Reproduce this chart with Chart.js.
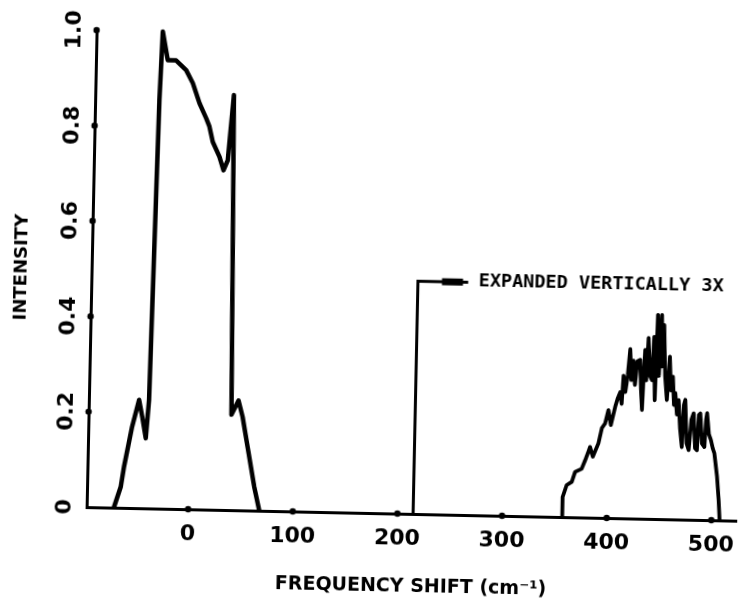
<!DOCTYPE html>
<html>
<head>
<meta charset="utf-8">
<script src="https://cdn.jsdelivr.net/npm/chart.js@4.4.1/dist/chart.umd.min.js"></script>
<style>
  html, body { margin: 0; padding: 0; background: #fff; overflow: hidden; }
  #wrap { width: 742px; height: 602px; }
  /* the scanned figure sits a little skewed on the page */
  #spectrum { transform: rotate(1.2deg); transform-origin: 50% 50%; }
</style>
</head>
<body>
<div id="wrap"><canvas id="spectrum" width="742" height="602"></canvas></div>
<script>
// main spectrum (cm-1, intensity)
const mainShift = [-71, -64.8, -62.1, -55.2, -49, -45.5, -41.9, -39.5, -38.2, -36.9, -35.6, -33.7,
    -28.4, -20.4, -10.6, -4, 2.8, 9.5, 12.7, 16.2, 22.9, 27, 30.9, 35.5, 39.5, 46, 50.2, 55.6, 62.7, 68];
const mainIntensity = [0, 0.044, 0.086, 0.17, 0.227, 0.19, 0.147, 0.227, 0.437, 0.646, 0.857, 1.0,
    0.94, 0.94, 0.92, 0.893, 0.851, 0.82, 0.803, 0.771, 0.74, 0.712, 0.733, 0.87, 0.2, 0.23, 0.196, 0.133, 0.05, 0];

// part expanded vertically 3x (noisy trace)
const expandedShift = [357, 357.5, 361.1, 365.9, 368.9, 375.1, 378.3, 381.2, 382.7, 385.5, 390.6, 393.6,
    396.6, 399.5, 402.1, 405.9, 408, 410.4, 412, 413.3, 415.3, 417.3, 419.2, 420.8, 422.5, 424.3, 426.3,
    428.9, 430.2, 431.5, 432.5, 433.5, 435, 436.5, 438.5, 440.5, 441.9, 443.5, 445, 447, 448.9, 450,
    451.2, 453, 455.1, 457.2, 458.8, 460.5, 462, 463.1, 465, 466.4, 468.3, 470.3, 471.5, 472.8, 474.8,
    476.9, 479, 481, 483, 484.8, 486, 487.4, 489.5, 491.9, 493, 493.9, 496, 498, 500, 501.6, 504.6,
    506.6, 507.9];
const expandedIntensity = [0, 0.042, 0.067, 0.074, 0.095, 0.102, 0.12, 0.138, 0.148, 0.128, 0.156, 0.188,
    0.198, 0.226, 0.195, 0.233, 0.25, 0.264, 0.24, 0.299, 0.265, 0.3, 0.355, 0.29, 0.331, 0.28, 0.33,
    0.333, 0.27, 0.228, 0.3, 0.354, 0.29, 0.379, 0.3, 0.291, 0.382, 0.249, 0.428, 0.3, 0.428, 0.32,
    0.407, 0.3, 0.25, 0.341, 0.27, 0.299, 0.24, 0.265, 0.22, 0.25, 0.19, 0.152, 0.24, 0.251, 0.16,
    0.146, 0.21, 0.223, 0.15, 0.146, 0.22, 0.223, 0.16, 0.153, 0.21, 0.224, 0.18, 0.168, 0.15, 0.14, 0.091,
    0.042, 0];

// bracket pointing to the note
const markerShift = [215, 215, 263];
const markerIntensity = [0, 0.488, 0.488];
const arrowShift = [248];
const arrowIntensity = [0.488];

const xTicks = [0, 100, 200, 300, 400, 500];
const yTicks = [0, 0.2, 0.4, 0.6, 0.8, 1.0];

const noteText = 'EXPANDED VERTICALLY 3X';
const xTitle = 'FREQUENCY SHIFT (cm\u207B\u00B9)';
const yTitle = 'INTENSITY';

const toPoints = (xs, ys) => xs.map((x, i) => ({ x: x, y: ys[i] }));

const boldFont = size => ({ family: 'DejaVu Sans', size: size, weight: 'bold' });

// little dots where the ticks sit on the axes
const tickDots = {
    id: 'tickDots',
    afterDatasetsDraw(chart) {
        const { ctx, chartArea, scales } = chart;
        ctx.save();
        ctx.fillStyle = '#000';
        scales.x.ticks.forEach(t => {
            ctx.beginPath();
            ctx.arc(scales.x.getPixelForValue(t.value), chartArea.bottom, 3.2, 0, Math.PI * 2);
            ctx.fill();
        });
        scales.y.ticks.forEach(t => {
            if (t.value === 0) return;
            ctx.beginPath();
            ctx.arc(chartArea.left, scales.y.getPixelForValue(t.value), 3.2, 0, Math.PI * 2);
            ctx.fill();
        });
        ctx.restore();
    }
};

// the note text next to the arrow
const noteAt = { x: 273, y: 0.49 };
const noteLabel = {
    id: 'noteLabel',
    afterDatasetsDraw(chart) {
        const { ctx, scales } = chart;
        ctx.save();
        ctx.font = 'bold 18.5px "DejaVu Sans Mono"';
        ctx.fillStyle = '#000';
        ctx.textAlign = 'left';
        ctx.textBaseline = 'middle';
        ctx.fillText(noteText, scales.x.getPixelForValue(noteAt.x), scales.y.getPixelForValue(noteAt.y));
        ctx.restore();
    }
};

new Chart(document.getElementById('spectrum'), {
    type: 'line',
    data: {
        datasets: [
            {
                data: toPoints(mainShift, mainIntensity),
                borderColor: '#000',
                borderWidth: 4.5,
                borderJoinStyle: 'round',
                pointRadius: 0,
                tension: 0,
                clip: false
            },
            {
                data: toPoints(expandedShift, expandedIntensity),
                borderColor: '#000',
                borderWidth: 3.8,
                borderJoinStyle: 'round',
                pointRadius: 0,
                tension: 0,
                clip: false
            },
            {
                data: toPoints(markerShift, markerIntensity),
                borderColor: '#000',
                borderWidth: 3,
                pointRadius: 0,
                tension: 0,
                clip: false
            },
            {
                data: toPoints(arrowShift, arrowIntensity),
                showLine: false,
                pointStyle: 'line',
                pointRadius: 10.5,
                pointBorderWidth: 7,
                pointBorderColor: '#000',
                clip: false
            }
        ]
    },
    options: {
        responsive: false,
        animation: false,
        layout: { autoPadding: false, padding: { top: 36, left: 0, right: 0, bottom: 0 } },
        plugins: { legend: { display: false }, tooltip: { enabled: false } },
        scales: {
            x: {
                type: 'linear',
                min: -97,
                max: 525,
                afterFit: s => {
                    s.height = 89;
                    s.paddingLeft = 0;
                    s.paddingRight = 0;
                },
                afterBuildTicks: s => { s.ticks = xTicks.map(v => ({ value: v })); },
                grid: { drawOnChartArea: false, drawTicks: false },
                border: { color: '#000', width: 3 },
                ticks: {
                    color: '#000',
                    font: boldFont(22),
                    padding: 12,
                    maxRotation: 0,
                    autoSkip: false
                },
                title: {
                    display: true,
                    text: xTitle,
                    color: '#000',
                    font: boldFont(19),
                    padding: { top: 0, bottom: 5 }
                }
            },
            y: {
                type: 'linear',
                min: 0,
                max: 1,
                afterFit: s => {
                    s.width = 91;
                    s.paddingTop = 0;
                    s.paddingBottom = 0;
                },
                afterBuildTicks: s => { s.ticks = yTicks.map(v => ({ value: v })); },
                grid: { drawOnChartArea: false, drawTicks: false },
                border: { color: '#000', width: 3 },
                ticks: {
                    color: '#000',
                    font: boldFont(22),
                    padding: 2,
                    minRotation: 90,
                    maxRotation: 90,
                    crossAlign: 'center',
                    callback: v => v === 0 ? '0' : v.toFixed(1)
                },
                title: {
                    display: true,
                    text: yTitle,
                    color: '#000',
                    font: boldFont(18),
                    padding: { top: 11, bottom: 0 }
                }
            }
        }
    },
    plugins: [tickDots, noteLabel]
});
</script>
</body>
</html>
